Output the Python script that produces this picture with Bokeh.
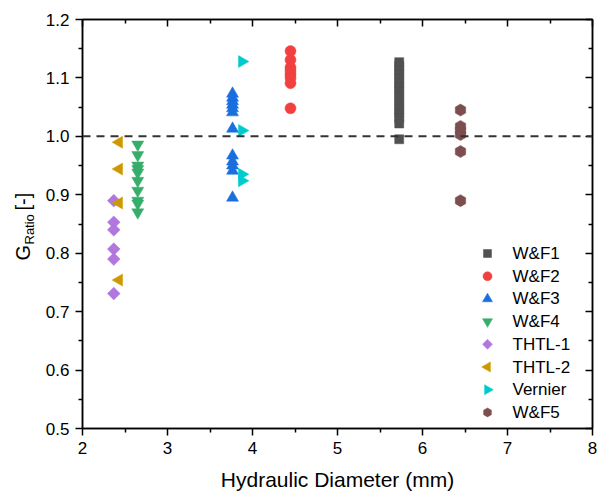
import math
from bokeh.plotting import figure
from bokeh.layouts import row
from bokeh.models import Span, LinearAxis, FixedTicker, CustomJSTickFormatter, Range1d
from bokeh.core.properties import value
from bokeh.embed import file_html
from bokeh.resources import INLINE

# ---- data ----
series_names = ["W&F1", "W&F2", "W&F3", "W&F4", "THTL-1", "THTL-2", "Vernier", "W&F5"]

wf1_x = 5.726
wf1_y = [1.127, 1.121, 1.113, 1.106, 1.099, 1.091, 1.084, 1.077, 1.069, 1.061,
         1.054, 1.046, 1.039, 1.031, 1.022, 0.995]

wf2_x = 4.447
wf2_y = [1.146, 1.131, 1.118, 1.112, 1.106, 1.100, 1.091, 1.048]

wf3_x = 3.765
wf3_y = [1.073, 1.066, 1.060, 1.054, 1.048, 1.041, 1.013, 0.967, 0.957, 0.950, 0.941, 0.895]

wf4_x = 2.65
wf4_y = [0.986, 0.968, 0.950, 0.944, 0.938, 0.924, 0.907, 0.890, 0.885, 0.870]

thtl1_x = 2.368
thtl1_y = [0.890, 0.853, 0.840, 0.807, 0.790, 0.731]

thtl2_x = 2.43
thtl2_y = [0.990, 0.944, 0.886, 0.754]

vernier_x = 3.876
vernier_y = [1.128, 1.010, 0.935, 0.924]

wf5_x = 6.447
wf5_y = [1.045, 1.017, 1.010, 1.003, 0.974, 0.890]

x_ticks = [2, 3, 4, 5, 6, 7, 8]
x_minor = [2.5, 3.5, 4.5, 5.5, 6.5, 7.5]
y_ticks = [0.5, 0.6, 0.7, 0.8, 0.9, 1.0, 1.1, 1.2]
y_minor = [0.55, 0.65, 0.75, 0.85, 0.95, 1.05, 1.15]

y_title_main = "G"
y_title_sub = "Ratio"
y_title_unit = "[-]"
x_title = "Hydraulic Diameter (mm)"

colors = ["#515151", "#F14040", "#1A6FDF", "#37AD6B", "#B177DE", "#CC9900", "#00CBCC", "#7D4E4E"]

FONT = "Liberation Sans"
W, H = 601, 493
LW = 40                               # width of the strip holding the y title
X0, X1, Y0, Y1 = 2, 8, 0.5, 1.2
FL, FR, FT, FB = 82, 592, 19, 428     # frame edges in page pixels


def px_to_x(px):
    return X0 + (px - FL) * (X1 - X0) / (FR - FL)


def py_to_y(py):
    return Y0 + (FB - py) * (Y1 - Y0) / (FB - FT)


# ---------- strip with the y-axis title (page-pixel coordinates) ----------
lab = figure(width=LW, height=H, output_backend="svg", toolbar_location=None,
             x_range=Range1d(0, LW), y_range=Range1d(H - FB, H - FT),
             min_border_left=0, min_border_right=0, min_border_top=FT,
             min_border_bottom=H - FB, x_axis_type=None, y_axis_type=None)
lab.grid.visible = False
lab.outline_line_color = None
lab.background_fill_color = "white"
lab.border_fill_color = "white"
common = dict(angle=math.pi / 2, text_font=value(FONT), text_baseline="middle",
              text_align="left", text_color="black")
lab.text(x=[22], y=[H - 260], text=[y_title_main], text_font_size="20px", **common)
lab.text(x=[28.5], y=[H - 244], text=[y_title_sub], text_font_size="13px", **common)
lab.text(x=[22], y=[H - 210], text=[y_title_unit], text_font_size="20px", **common)

# ---------- main plot ----------
p = figure(width=W - LW, height=H, output_backend="svg", toolbar_location=None,
           x_range=Range1d(X0, X1), y_range=Range1d(Y0, Y1),
           frame_width=FR - FL, frame_height=FB - FT,
           min_border_left=FL - LW, min_border_right=W - FR, min_border_top=FT,
           min_border_bottom=H - FB,
           x_axis_type=None, y_axis_type=None)
p.grid.visible = False
p.background_fill_color = "white"
p.border_fill_color = "white"
p.outline_line_color = "black"
p.outline_line_width = 1.5

blank = CustomJSTickFormatter(code="return ''")


def style_axis(ax, inward):
    ax.axis_line_color = "black"
    ax.axis_line_width = 1.5
    ax.major_tick_line_color = "black"
    ax.minor_tick_line_color = "black"
    ax.major_tick_line_width = 1.5
    ax.minor_tick_line_width = 1.5
    if inward:
        ax.major_tick_in, ax.major_tick_out = 7, 0
        ax.minor_tick_in, ax.minor_tick_out = 4, 0
    else:
        ax.major_tick_in, ax.major_tick_out = 0, 7
        ax.minor_tick_in, ax.minor_tick_out = 0, 4
    ax.major_label_text_font = FONT
    ax.major_label_text_font_size = "17px"
    ax.major_label_text_color = "black"


bottom = LinearAxis(ticker=FixedTicker(ticks=x_ticks, minor_ticks=x_minor))
style_axis(bottom, False)
bottom.major_label_standoff = 6
bottom.axis_label = x_title
bottom.axis_label_text_font = FONT
bottom.axis_label_text_font_size = "21px"
bottom.axis_label_text_font_style = "normal"
bottom.axis_label_text_color = "black"
bottom.axis_label_standoff = 11
p.add_layout(bottom, "below")

left = LinearAxis(ticker=FixedTicker(ticks=y_ticks, minor_ticks=y_minor))
style_axis(left, False)
left.major_label_standoff = 6
left.formatter = CustomJSTickFormatter(code="return tick.toFixed(1)")
p.add_layout(left, "left")

top = LinearAxis(ticker=FixedTicker(ticks=x_ticks, minor_ticks=x_minor), formatter=blank)
style_axis(top, True)
top.major_label_standoff = 0
p.add_layout(top, "above")

right = LinearAxis(ticker=FixedTicker(ticks=y_ticks, minor_ticks=y_minor), formatter=blank)
style_axis(right, True)
right.major_label_standoff = 0
p.add_layout(right, "right")

# reference line
p.add_layout(Span(location=1.0, dimension="width", line_color="#333333",
                  line_width=2, line_dash="8 6"))

xs = [wf1_x, wf2_x, wf3_x, wf4_x, thtl1_x, thtl2_x, vernier_x, wf5_x]
ys = [wf1_y, wf2_y, wf3_y, wf4_y, thtl1_y, thtl2_y, vernier_y, wf5_y]
markers = ["square", "circle", "triangle", "inverted_triangle", "square", "triangle", "triangle", "hex"]
angles = [0, 0, 0, 0, math.pi / 4, math.pi / 2, -math.pi / 2, math.pi / 2]
sizes = [9, 11, 12, 12, 9, 12, 12, 12]
leg_sizes = [8, 9, 10, 10, 7, 10, 10, 9]

for name, xv, yv, mk, ang, sz, col in zip(series_names, xs, ys, markers, angles, sizes, colors):
    p.scatter(x=[xv] * len(yv), y=yv, marker=mk, angle=ang, size=sz,
              fill_color=col, line_color=col, line_width=0.5)

# legend drawn by hand (so rotated markers keep their orientation)
LEG_GX, LEG_TX, LEG_Y0, LEG_DY = 487, 512, 253, 22.7
for i, (name, mk, ang, sz, col) in enumerate(zip(series_names, markers, angles, leg_sizes, colors)):
    ly = py_to_y(LEG_Y0 + i * LEG_DY)
    p.scatter(x=[px_to_x(LEG_GX)], y=[ly], marker=mk, angle=ang, size=sz,
              fill_color=col, line_color=col, line_width=0.5)
    p.text(x=[px_to_x(LEG_TX)], y=[ly], text=[name], text_font=value(FONT),
           text_font_size="17px", text_baseline="middle", text_align="left",
           text_color="black")

layout = row(lab, p, spacing=0)
open("out.html", "w").write(file_html(layout, INLINE))
